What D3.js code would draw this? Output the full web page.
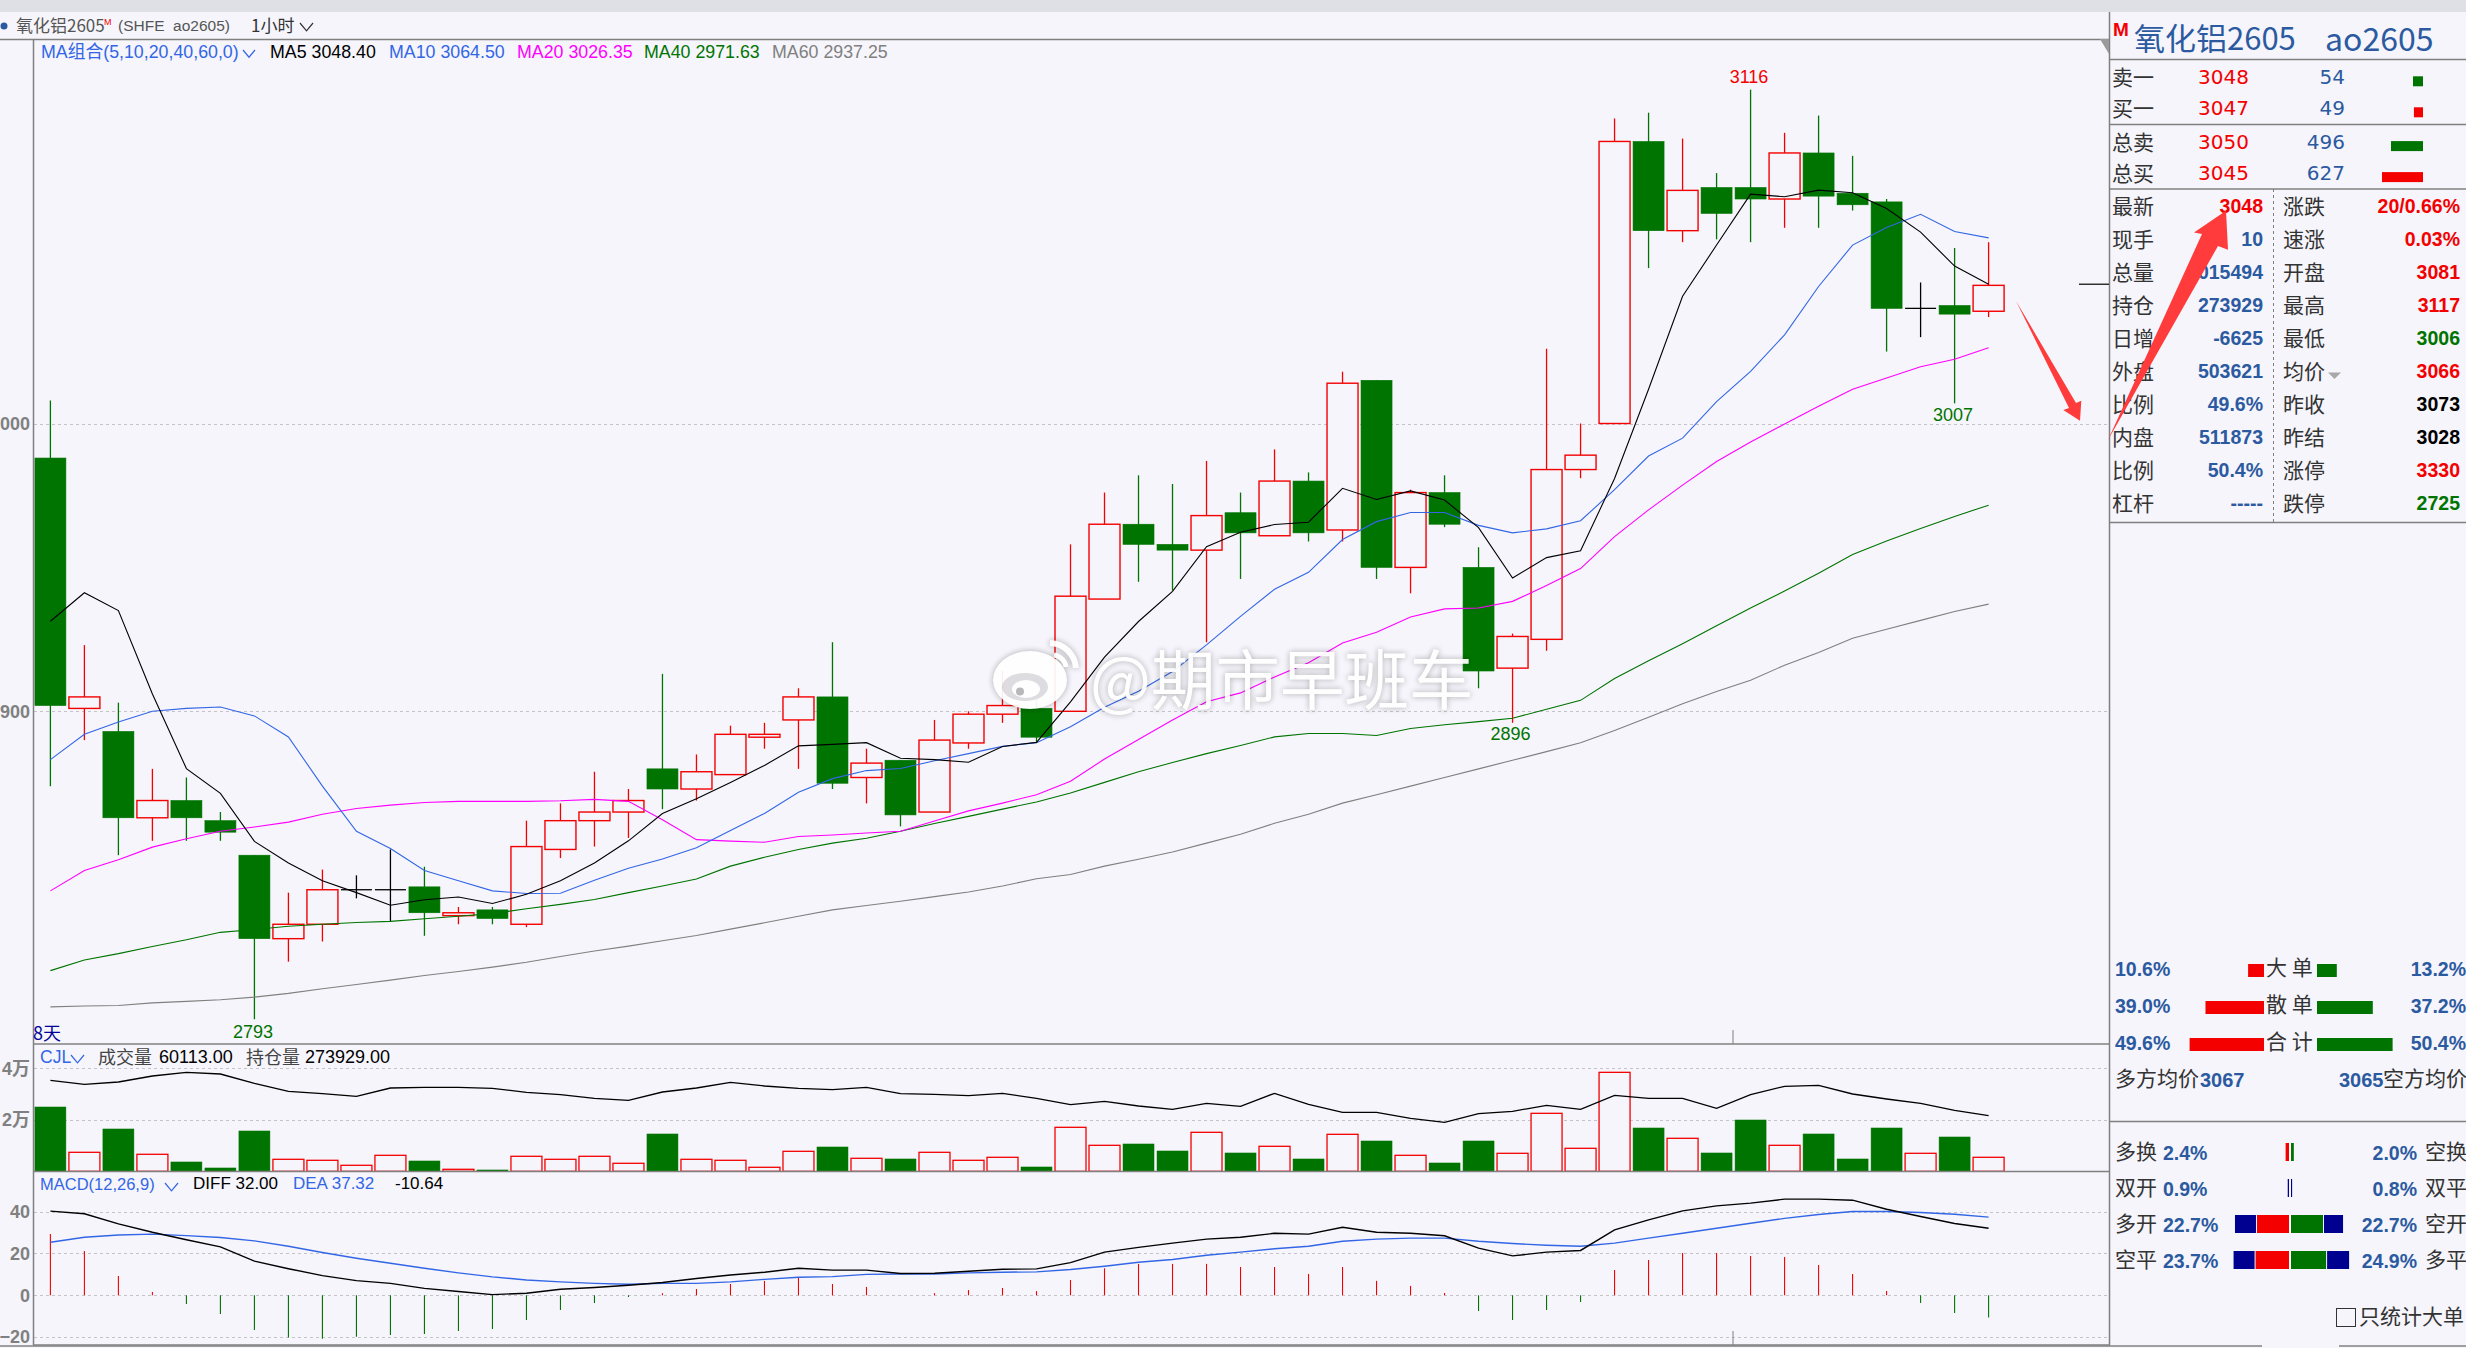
<!DOCTYPE html>
<html>
<head>
<meta charset="utf-8">
<script src="https://cdn.jsdelivr.net/npm/d3@7"></script>
<style>
    html, body { margin: 0; padding: 0; background: #f5f5fb; overflow: hidden; }
    text { font-family: "Liberation Sans", "Noto Sans CJK SC", sans-serif; white-space: pre; }
    .cjk { font-family: "Noto Sans CJK SC", sans-serif; }
    .axis path, .axis line { display: none; }
    .axis text { font-family: "Liberation Sans", "Noto Sans CJK SC", sans-serif; font-weight: bold; font-size: 18px; fill: #808080; }
</style>
</head>
<body>
<div id="chart"></div>
<script>
// candles, one entry per hourly bar
var candleOpen = [2988,2901,2893,2863,2869,2862,2850,2821,2826,2838,2838,2839,2829,2831,2826,2852,2862,2865,2880,2873,
    2878,2891,2897,2905,2877,2883,2865,2889,2899,2901,2900,2939,2965,2958,2956,2969,2961,2980,2963,3015,
    2950,2976,2950,2915,2925,2984,3000,3098,3067,3082,3082,3078,3094,3080,3077,3040,3041,3039];
var candleClose = [2902,2905,2863,2869,2863,2858,2821,2826,2838,2838,2838,2830,2830,2828,2853,2862,2865,2869,2873,2879,
    2892,2892,2905,2875,2882,2864,2890,2899,2902,2891,2940,2965,2958,2956,2968,2962,2980,2962,3014,2950,
    2976,2965,2914,2926,2984,2989,3098,3067,3081,3073,3078,3094,3079,3076,3040,3040,3038,3048];
var candleHigh = [3008,2923,2903,2880,2877,2865,2850,2837,2845,2843,2852,2846,2832,2832,2862,2868,2879,2873,2913,2885,
    2895,2896,2908,2924,2887,2883,2897,2900,2914,2904,2958,2976,2982,2979,2987,2976,2991,2983,3018,3015,
    2977,2982,2957,2927,3026,3000,3106,3108,3099,3087,3116,3101,3107,3093,3078,3049,3061,3063];
var candleLow = [2874,2890,2850,2855,2855,2855,2793,2813,2820,2835,2827,2822,2826,2826,2825,2849,2853,2856,2866,2869,
    2878,2887,2880,2873,2868,2860,2865,2887,2896,2889,2900,2939,2945,2942,2924,2946,2961,2959,2959,2946,
    2941,2964,2908,2896,2921,2981,3000,3054,3063,3064,3063,3068,3068,3074,3025,3030,3007,3037];

var ma5 = [2931.3,2941.2,2935,2906,2880.1,2871.5,2854.8,2847.3,2841.1,2837,2832.6,2834.5,2835.5,2833.2,2836.4,2841.1,2847.3,2855,2864.5,2869.6,
    2875.3,2881.2,2888,2888.5,2889.1,2883.7,2883.2,2882.3,2887.8,2889.2,2903.3,2918.8,2931.2,2941.7,2957.2,2962.2,2964.9,2965.7,2977.5,2973.6,
    2976.6,2973.4,2963.8,2946.3,2953.4,2955.8,2980.9,3011.9,3044.2,3062,3079.7,3078.8,3081.1,3080.2,3074.7,3066.5,3054.7,3048.4];
var ma10 = [2883.2,2892,2896.3,2900,2901,2901.5,2898.4,2891.1,2874,2858.3,2852.3,2844.7,2841.1,2837.6,2836.7,2836.8,2841.3,2845.5,2848.7,2852.6,
    2858.6,2864.5,2871.9,2876.6,2879.4,2880.1,2882.8,2885.3,2887.8,2889.1,2894.6,2901.4,2907,2913.8,2923.1,2933,2942.4,2948.3,2959.7,2965.9,
    2969.1,2969.1,2964.6,2962,2963.4,2966.2,2977,2988.7,2994.9,3007.6,3018.1,3030.8,3047.6,3062,3068.1,3072.7,3066.7,3064.5];
var ma20 = [2837.6,2844.7,2848.4,2852.8,2855.7,2858.3,2859.8,2861.5,2864.2,2866.2,2867.4,2868.3,2868.7,2868.7,2868.7,2868.9,2869.4,2868.7,2862.3,2855.4,
    2854.9,2854.5,2856.5,2857,2857.7,2858.3,2861.9,2865.4,2868.1,2871,2875.7,2883.4,2890.2,2897,2903.3,2906.4,2911.9,2916.9,2923.7,2927.5,
    2932.8,2935.6,2935.9,2938.2,2943.7,2949.6,2960.7,2970,2978.6,2986.8,2993.6,2999.8,3006,3011.9,3015.8,3019.7,3022.3,3026.35];
var ma40 = [2809.9,2813.6,2815.8,2818.3,2820.6,2823.2,2824.2,2825.3,2826,2826.6,2827,2827.9,2828.8,2829.7,2831.4,2832.9,2834.6,2837,2839.3,2841.7,
    2846.2,2849.3,2852,2854.2,2855.9,2858.3,2861,2863.5,2866,2868.5,2871.6,2875.3,2879,2882.2,2885.3,2888.1,2891.1,2892.3,2892.3,2891.6,
    2894,2895.3,2896.4,2897.6,2900.7,2903.8,2911.4,2917.6,2923.5,2929.7,2935.9,2941.8,2948,2954.5,2959.2,2963.5,2967.7,2971.63];
var ma60 = [2797.3,2797.6,2797.8,2798.7,2799.2,2799.8,2800.7,2802,2803.6,2805.1,2806.6,2808.2,2809.6,2811.1,2812.8,2814.8,2816.7,2818.4,2820.3,2822.1,
    2824.3,2826.5,2828.8,2831,2832.5,2834,2835.6,2837.2,2839.3,2841.8,2843.3,2846.2,2848.6,2851.1,2854.2,2857.3,2861.1,2864.2,2868.1,2871,
    2874,2877,2880,2883,2886,2889.1,2893.3,2897.9,2902.6,2906.9,2910.8,2916,2920.4,2925.4,2928.5,2931.6,2934.7,2937.25];

var volume = [24974,7376,16434,6600,3623,1294,15657,4658,4270,2329,6211,4011,776,518,5823,4658,5823,3106,14493,4658,
    4270,1553,7764,9446,5047,4788,7376,4270,5435,1682,17081,10093,10611,7893,15140,7117,9705,4788,14363,11775,
    6211,3235,11775,6988,22516,8929,38432,16822,12811,7117,19928,10093,14493,4788,16822,6988,13328,5435];
var volumeLine = [35326,33773,34679,37008,38432,37785,34162,31056,30150,29115,32350,32609,32609,32221,30668,29762,28339,27562,30797,32350,
    34550,33126,32221,31703,32609,30150,29891,29374,30280,28339,25880,27174,25362,24068,26398,25233,30280,26009,22904,22904,
    20575,19022,22386,23292,25621,24068,29503,28339,28339,24457,29762,32997,33385,30021,28080,26398,23680,21610];

var diff = [40.2,38.9,34.1,30.1,26.5,23.1,16.3,12.7,9.4,7,5.7,3.3,1.8,0.3,1,2.9,3.7,4.8,6.1,8,
    9.7,11,12.9,12,12,10.4,10.5,11.5,12.4,12.6,15.6,20.6,22.9,24.9,26.8,27.7,29.6,29.2,32.5,30.1,
    29.6,28.4,22.5,18.8,20.6,21.4,31.2,36,40.3,42.7,44,45.9,45.9,45.4,41.1,37.6,34.3,32];
var dea = [25.3,27.7,28.8,29.2,28.5,27.6,26,23.4,20.4,17.7,15.3,12.9,10.7,8.8,7.3,6.4,5.7,5.3,5.7,5.7,
    6.4,7.6,8.6,8.9,10,10.2,10.2,10.7,11,11.2,12.3,13.9,15.8,17.1,19.1,20.6,22.2,23.4,25.8,26.8,
    27.3,27.3,25.8,24.7,23.9,23.4,24.9,27.3,29.6,32,34.4,36.7,38.6,40,40,39.5,38.7,37.32];
var macdHist = [29.3,21.2,9.2,1.6,-4.1,-8.9,-16.6,-20.2,-20.7,-19.8,-19,-18.5,-17,-16.1,-11.8,-7,-3.7,-0.8,1,3,
    5.4,6.9,8.6,5.4,4,0,1,2.5,3.5,2,7.3,12.9,15,15,15,13.5,13.5,10.2,13.5,6.9,
    4.5,1.1,-7.5,-11.8,-7,-3.2,12.1,16.9,20.2,20.2,18.8,18.3,14.5,10.2,2.1,-3.7,-8.4,-10.64];

var priceTicks = [3000, 2900];
var volumeTicks = [40000, 20000];
var volumeTickLabels = ["4万", "2万"];
var macdTicks = [40, 20, 0, -20];

var quoteLabels = ["卖一", "买一", "总卖", "总买"];
var quotePrices = [3048, 3047, 3050, 3045];
var quoteSizes = [54, 49, 496, 627];

var statLabelsLeft = ["最新", "现手", "总量", "持仓", "日增", "外盘", "比例", "内盘", "比例", "杠杆"];
var statValuesLeft = ["3048", "10", "1015494", "273929", "-6625", "503621", "49.6%", "511873", "50.4%", "-----"];
var statLabelsRight = ["涨跌", "速涨", "开盘", "最高", "最低", "均价", "昨收", "昨结", "涨停", "跌停"];
var statValuesRight = ["20/0.66%", "0.03%", "3081", "3117", "3006", "3066", "3073", "3028", "3330", "2725"];
var statColorsRight = ["r", "r", "r", "r", "g", "r", "k", "k", "r", "g"];

var orderLabels = ["大 单", "散 单", "合 计"];
var orderLeft = [10.6, 39.0, 49.6];
var orderRight = [13.2, 37.2, 50.4];

var flowLabelsLeft = ["多换", "双开", "多开", "空平"];
var flowValuesLeft = [2.4, 0.9, 22.7, 23.7];
var flowLabelsRight = ["空换", "双平", "空开", "多平"];
var flowValuesRight = [2.0, 0.8, 22.7, 24.9];
var flowNavyLeft = [0, 0, 14.9, 14.9];
var flowNavyRight = [0, 0, 13.5, 15.6];

var RED = "#f40000", GREEN = "#007400", BLUE = "#3366e6", PANELBLUE = "#2c5aa0", BG = "#f5f5fb", AXIS = "#808080";
var colorMap = { r: RED, g: GREEN, k: "#000" };

var svg = d3.select("#chart").append("svg")
    .attr("width", 2466)
    .attr("height", 1348)
    .style("display", "block");

svg.append("rect").attr("width", 2466).attr("height", 1348).attr("fill", BG);
svg.append("rect").attr("width", 2466).attr("height", 12).attr("fill", "#dfe0e5");

// Scales
var idx = d3.range(candleOpen.length);
var x = d3.scaleLinear().domain([0, 57]).range([50.4, 1988.6]);
var y = d3.scaleLinear().domain([2900, 3000]).range([711.3, 423.5]);
var yVol = d3.scaleLinear().domain([0, 40000]).range([1171.3, 1068.3]);
var yMacd = d3.scaleLinear().domain([0, 40]).range([1295.3, 1211.5]);
var bodyW = 31;

function label(g, px, py, str, o) {
    o = o || {};
    return g.append("text")
        .attr("x", px)
        .attr("y", py - (o.cjk ? 1.5 : 0.5))
        .attr("dominant-baseline", "central")
        .attr("text-anchor", o.anchor || "start")
        .attr("class", o.cjk ? "cjk" : null)
        .style("font-size", (o.size || 17) + "px")
        .style("font-weight", o.bold ? "bold" : "normal")
        .style("fill", o.color || "#333")
        .text(str);
}

function chevron(g, px, py, w, color) {
    g.append("path")
        .attr("d", "M" + px + "," + py + "L" + (px + w / 2) + "," + (py + w * 0.6) + "L" + (px + w) + "," + py)
        .attr("fill", "none")
        .attr("stroke", color)
        .attr("stroke-width", 1.2);
}

// Grid
var grid = svg.append("g");
function gridLines(vals, scale) {
    grid.selectAll(null).data(vals).enter().append("line")
        .attr("x1", 34).attr("x2", 2110)
        .attr("y1", function(d) { return Math.round(scale(d)) + 0.5; })
        .attr("y2", function(d) { return Math.round(scale(d)) + 0.5; })
        .attr("stroke", "#c4c4c8")
        .attr("stroke-width", 1)
        .attr("stroke-dasharray", "3,3");
}
gridLines(priceTicks, y);
gridLines(volumeTicks, yVol);
gridLines(macdTicks, yMacd);

// Axes, the screenshot cuts the leading digit of the price labels
svg.append("g").attr("class", "axis").attr("transform", "translate(33,0)")
    .call(d3.axisLeft(y).tickValues(priceTicks).tickSize(0)
        .tickFormat(function(d) { return String(d).slice(1); }));
svg.append("g").attr("class", "axis").attr("transform", "translate(33,0)")
    .call(d3.axisLeft(yVol).tickValues(volumeTicks).tickSize(0)
        .tickFormat(function(d, i) { return volumeTickLabels[i]; }));
svg.append("g").attr("class", "axis").attr("transform", "translate(33,0)")
    .call(d3.axisLeft(yMacd).tickValues(macdTicks).tickSize(0).tickFormat(d3.format("d")));

// Candles
function candleColor(i) {
    if (candleClose[i] === candleOpen[i]) return "#000";
    return candleClose[i] > candleOpen[i] ? RED : GREEN;
}

var candles = svg.append("g");
candles.selectAll(".wick").data(idx).enter().append("line")
    .attr("class", "wick")
    .attr("x1", function(i) { return x(i); })
    .attr("x2", function(i) { return x(i); })
    .attr("y1", function(i) { return y(candleHigh[i]); })
    .attr("y2", function(i) { return y(candleLow[i]); })
    .attr("stroke", function(i) { return candleColor(i); })
    .attr("stroke-width", 1.3);

candles.selectAll(".body").data(idx.filter(function(i) { return candleClose[i] !== candleOpen[i]; })).enter().append("rect")
    .attr("class", "body")
    .attr("x", function(i) { return x(i) - bodyW / 2; })
    .attr("width", bodyW)
    .attr("y", function(i) { return y(Math.max(candleOpen[i], candleClose[i])); })
    .attr("height", function(i) { return Math.abs(y(candleOpen[i]) - y(candleClose[i])); })
    .attr("fill", function(i) { return candleClose[i] > candleOpen[i] ? BG : candleColor(i); })
    .attr("stroke", candleColor)
    .attr("stroke-width", function(i) { return candleClose[i] > candleOpen[i] ? 1.4 : 0.6; });

// Flat bars are a plain cross
candles.selectAll(".doji").data(idx.filter(function(i) { return candleClose[i] === candleOpen[i]; })).enter().append("line")
    .attr("class", "doji")
    .attr("x1", function(i) { return x(i) - bodyW / 2; })
    .attr("x2", function(i) { return x(i) + bodyW / 2; })
    .attr("y1", function(i) { return y(candleClose[i]); })
    .attr("y2", function(i) { return y(candleClose[i]); })
    .attr("stroke", "#000")
    .attr("stroke-width", 1.3);

// Moving averages
var priceLine = d3.line().x(function(d, i) { return x(i); }).y(function(d) { return y(d); });
var maSeries = [[ma60, "#808080"], [ma40, "#007400"], [ma20, "#ff00ff"], [ma10, "#3366e6"], [ma5, "#000"]];
svg.append("g").selectAll("path").data(maSeries).enter().append("path")
    .attr("d", function(d) { return priceLine(d[0]); })
    .attr("fill", "none")
    .attr("stroke", function(d) { return d[1]; })
    .attr("stroke-width", 1.1);

// Volume
svg.append("g").selectAll("rect").data(idx).enter().append("rect")
    .attr("x", function(i) { return x(i) - bodyW / 2; })
    .attr("width", bodyW)
    .attr("y", function(i) { return yVol(volume[i]); })
    .attr("height", function(i) { return yVol(0) - yVol(volume[i]); })
    .attr("fill", function(i) { return candleClose[i] >= candleOpen[i] ? BG : GREEN; })
    .attr("stroke", function(i) { return candleClose[i] >= candleOpen[i] ? RED : GREEN; })
    .attr("stroke-width", function(i) { return candleClose[i] >= candleOpen[i] ? 1.3 : 0.5; });

svg.append("path")
    .attr("d", d3.line().x(function(d, i) { return x(i); }).y(function(d) { return yVol(d); })(volumeLine))
    .attr("fill", "none").attr("stroke", "#000").attr("stroke-width", 1.3);

// MACD
svg.append("g").selectAll("line").data(idx).enter().append("line")
    .attr("x1", function(i) { return x(i); })
    .attr("x2", function(i) { return x(i); })
    .attr("y1", yMacd(0))
    .attr("y2", function(i) { return yMacd(macdHist[i]); })
    .attr("stroke", function(i) { return macdHist[i] >= 0 ? RED : GREEN; })
    .attr("stroke-width", 1.1);

var macdLine = d3.line().x(function(d, i) { return x(i); }).y(function(d) { return yMacd(d); });
svg.append("path").attr("d", macdLine(dea)).attr("fill", "none").attr("stroke", "#3366e6").attr("stroke-width", 1.4);
svg.append("path").attr("d", macdLine(diff)).attr("fill", "none").attr("stroke", "#000").attr("stroke-width", 1.4);

// Frame
var frame = svg.append("g").attr("stroke", AXIS).attr("stroke-width", 1.5);
frame.append("line").attr("x1", 0).attr("x2", 2110).attr("y1", 39.5).attr("y2", 39.5);
frame.append("line").attr("x1", 33.5).attr("x2", 33.5).attr("y1", 39).attr("y2", 1345);
frame.append("line").attr("x1", 2109.5).attr("x2", 2109.5).attr("y1", 12).attr("y2", 1345);
[1044, 1171.5, 1345].forEach(function(p) {
    frame.append("line").attr("x1", 33).attr("x2", 2110).attr("y1", p).attr("y2", p);
});
frame.append("line").attr("x1", 0).attr("x2", 2262).attr("y1", 1346).attr("y2", 1346);
frame.append("line").attr("x1", 2339).attr("x2", 2466).attr("y1", 1346).attr("y2", 1346);
[1030, 1331].forEach(function(p) {
    svg.append("line").attr("x1", 1733).attr("x2", 1733).attr("y1", p).attr("y2", p + 14)
        .attr("stroke", AXIS).attr("stroke-width", 1);
});
svg.append("polygon").attr("points", "2100,39 2109,39 2109,54").attr("fill", "#9a9a9a");
svg.append("line").attr("x1", 2079).attr("x2", 2109).attr("y1", y(3048.4)).attr("y2", y(3048.4))
    .attr("stroke", "#000").attr("stroke-width", 1.2);

// Chart header text
var head = svg.append("g");
head.append("circle").attr("cx", 4).attr("cy", 26).attr("r", 3.5).attr("fill", "#2c5aa0");
label(head, 16, 26, "氧化铝2605", { size: 17, color: "#555", cjk: true });
label(head, 104, 22, "M", { size: 9, color: RED });
label(head, 118, 26, "(SHFE  ao2605)", { size: 15.5, color: "#555" });
label(head, 251, 26, "1小时", { size: 17, color: "#333", cjk: true });
chevron(head, 300, 23, 13, "#333");

label(head, 41, 52, "MA组合(5,10,20,40,60,0)", { size: 17.8, color: BLUE });
chevron(head, 243, 50, 12, BLUE);
label(head, 270, 52, "MA5 3048.40", { size: 17.8, color: "#000" });
label(head, 389, 52, "MA10 3064.50", { size: 17.8, color: BLUE });
label(head, 517, 52, "MA20 3026.35", { size: 17.8, color: "#ff00ff" });
label(head, 644, 52, "MA40 2971.63", { size: 17.8, color: "#007400" });
label(head, 772, 52, "MA60 2937.25", { size: 17.8, color: "#808080" });

label(head, 33, 1033, "8天", { size: 18, color: "#000099", cjk: true });
label(head, 253, y(2793) + 13, "2793", { size: 18, color: GREEN, anchor: "middle" });
label(head, 1510.5, y(2896) + 12, "2896", { size: 18, color: GREEN, anchor: "middle" });
label(head, 1953, y(3007) + 12, "3007", { size: 18, color: GREEN, anchor: "middle" });
label(head, 1749, y(3116) - 12, "3116", { size: 18, color: RED, anchor: "middle" });

label(head, 40, 1057, "CJL", { size: 17.5, color: BLUE });
chevron(head, 71, 1055, 13, BLUE);
label(head, 98, 1057, "成交量", { size: 18, color: "#444", cjk: true });
label(head, 159, 1057, "60113.00", { size: 18, color: "#000" });
label(head, 246, 1057, "持仓量", { size: 18, color: "#444", cjk: true });
label(head, 305, 1057, "273929.00", { size: 18, color: "#000" });

label(head, 40, 1184, "MACD(12,26,9)", { size: 16.5, color: BLUE });
chevron(head, 165, 1183, 13, BLUE);
label(head, 193, 1184, "DIFF 32.00", { size: 17, color: "#000" });
label(head, 293, 1184, "DEA 37.32", { size: 17, color: BLUE });
label(head, 395, 1184, "-10.64", { size: 17, color: "#000" });

// Watermark
var mark = svg.append("g").style("filter", "drop-shadow(0 0 3px rgba(0,0,0,0.32))").style("opacity", 0.93);
mark.append("ellipse").attr("cx", 1030).attr("cy", 680).attr("rx", 37).attr("ry", 29).attr("fill", "#fff");
mark.append("ellipse").attr("cx", 1025).attr("cy", 687).attr("rx", 23).attr("ry", 14).attr("fill", "#dcdce0");
mark.append("ellipse").attr("cx", 1026).attr("cy", 689).attr("rx", 14).attr("ry", 9).attr("fill", "#fff");
mark.append("circle").attr("cx", 1020).attr("cy", 691.5).attr("r", 4).attr("fill", "#b4b4b8");
mark.append("path").attr("d", "M1050,643 A27,27 0 0,1 1076,668").attr("fill", "none").attr("stroke", "#fff").attr("stroke-width", 6);
mark.append("path").attr("d", "M1054,655 A14,14 0 0,1 1066,667").attr("fill", "none").attr("stroke", "#fff").attr("stroke-width", 5);
label(mark, 1090, 677, "@期市早班车", { size: 64.5, color: "#fff", cjk: true });

// Right panel
var panel = svg.append("g");
var rules = [59.5, 124.5, 189, 522.5, 1121.5];
panel.selectAll("line").data(rules).enter().append("line")
    .attr("x1", 2110).attr("x2", 2466)
    .attr("y1", function(d) { return d; }).attr("y2", function(d) { return d; })
    .attr("stroke", AXIS).attr("stroke-width", 1.5);
panel.append("line").attr("x1", 2273.5).attr("x2", 2273.5).attr("y1", 189).attr("y2", 522)
    .attr("stroke", AXIS).attr("stroke-dasharray", "3,3");

label(panel, 2113, 30, "M", { size: 19, color: RED, bold: true });
label(panel, 2134, 38, "氧化铝2605", { size: 31, color: PANELBLUE, cjk: true });
label(panel, 2325, 38, "ao2605", { size: 32, color: PANELBLUE, cjk: true });

var quoteRow = d3.scaleLinear().domain([0, 1]).range([77.8, 108.8]);
var quoteY = function(i) { return (i < 2 ? quoteRow(i) : quoteRow(i - 2) + 64.8); };
var quoteBar = d3.scaleLinear().domain([0, 54, 496, 627]).range([0, 10, 32, 41]);
quoteLabels.forEach(function(d, i) {
    label(panel, 2112, quoteY(i) - 0.5, d, { size: 21, cjk: true });
    label(panel, 2198, quoteY(i), quotePrices[i], { size: 20, color: RED }).style("font-family", "DejaVu Sans");
    label(panel, 2345, quoteY(i), quoteSizes[i], { size: 20, color: PANELBLUE, anchor: "end" }).style("font-family", "DejaVu Sans");
    panel.append("rect")
        .attr("x", 2423 - quoteBar(quoteSizes[i]))
        .attr("y", quoteY(i) - 1.5)
        .attr("width", quoteBar(quoteSizes[i]))
        .attr("height", 10)
        .attr("fill", i % 2 ? RED : GREEN);
});

var statRow = d3.scaleLinear().domain([0, 9]).range([206.5, 503.5]);
statLabelsLeft.forEach(function(d, i) {
    label(panel, 2112, statRow(i), d, { size: 21, cjk: true });
    label(panel, 2263, statRow(i), statValuesLeft[i], { size: 19.5, bold: true, anchor: "end", color: i === 0 ? RED : PANELBLUE });
    label(panel, 2283, statRow(i), statLabelsRight[i], { size: 21, cjk: true });
    label(panel, 2460, statRow(i), statValuesRight[i], { size: 19.5, bold: true, anchor: "end", color: colorMap[statColorsRight[i]] });
});
panel.append("polygon").attr("points", "2328,372.5 2341,372.5 2334.5,379").attr("fill", "#a8a8a8");

var orderRow = d3.scaleLinear().domain([0, 2]).range([969, 1043]);
var orderBar = d3.scaleLinear().domain([0, 50]).range([0, 75]);
orderLabels.forEach(function(d, i) {
    label(panel, 2115, orderRow(i), orderLeft[i].toFixed(1) + "%", { size: 19.5, bold: true, color: PANELBLUE });
    label(panel, 2466, orderRow(i), orderRight[i].toFixed(1) + "%", { size: 19.5, bold: true, color: PANELBLUE, anchor: "end" });
    label(panel, 2266, orderRow(i) - 2, d, { size: 21, cjk: true });
    panel.append("rect").attr("x", 2264 - orderBar(orderLeft[i])).attr("y", orderRow(i) - 5)
        .attr("width", orderBar(orderLeft[i])).attr("height", 13).attr("fill", RED);
    panel.append("rect").attr("x", 2317).attr("y", orderRow(i) - 5)
        .attr("width", orderBar(orderRight[i])).attr("height", 13).attr("fill", GREEN);
});

label(panel, 2115, 1078, "多方均价", { size: 21, cjk: true });
label(panel, 2200, 1080, "3067", { size: 20, bold: true, color: PANELBLUE });
label(panel, 2339, 1080, "3065", { size: 20, bold: true, color: PANELBLUE });
label(panel, 2383, 1078, "空方均价", { size: 21, cjk: true });

var flowRow = d3.scaleLinear().domain([0, 3]).range([1152, 1260]);
var flowBar = d3.scaleLinear().domain([0, 10]).range([0, 14.1]);
flowLabelsLeft.forEach(function(d, i) {
    var top = flowRow(i) - 9;
    var isNavy = i === 1;
    label(panel, 2115, flowRow(i) - 1, d, { size: 21, cjk: true });
    label(panel, 2163, flowRow(i) + 1, flowValuesLeft[i].toFixed(1) + "%", { size: 19.5, bold: true, color: PANELBLUE });
    label(panel, 2417, flowRow(i) + 1, flowValuesRight[i].toFixed(1) + "%", { size: 19.5, bold: true, color: PANELBLUE, anchor: "end" });
    label(panel, 2425, flowRow(i) - 1, flowLabelsRight[i], { size: 21, cjk: true });

    var lw = flowBar(flowValuesLeft[i]), rw = flowBar(flowValuesRight[i]);
    panel.append("rect").attr("x", 2289 - lw).attr("y", top).attr("width", lw).attr("height", 18)
        .attr("fill", isNavy ? "#000090" : RED);
    panel.append("rect").attr("x", 2291).attr("y", top).attr("width", rw).attr("height", 18)
        .attr("fill", isNavy ? "#000090" : GREEN);
    if (flowNavyLeft[i] > 0) {
        panel.append("rect").attr("x", 2288 - lw - flowBar(flowNavyLeft[i])).attr("y", top)
            .attr("width", flowBar(flowNavyLeft[i])).attr("height", 18).attr("fill", "#000090");
        panel.append("rect").attr("x", 2292 + rw).attr("y", top)
            .attr("width", flowBar(flowNavyRight[i])).attr("height", 18).attr("fill", "#000090");
    }
});

panel.append("rect").attr("x", 2336.5).attr("y", 1308.5).attr("width", 19).attr("height", 18)
    .attr("fill", "none").attr("stroke", "#333").attr("stroke-width", 1);
label(panel, 2359, 1316, "只统计大单", { size: 21, cjk: true });

// Hand drawn arrows, on top of everything
var arrows = svg.append("g").attr("fill", "#ff3b3b");
arrows.append("polygon").attr("points", "2226,210.7 2228,249.7 2218,246 2108,440 2202,234 2194,232.4");
arrows.append("polygon").attr("points", "2016,301 2076,403 2081.3,400.7 2080,420.7 2063.3,410 2069,408");
</script>
</body>
</html>
